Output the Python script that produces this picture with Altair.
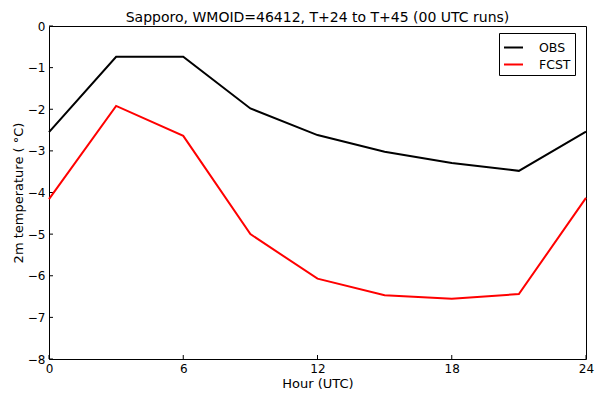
import altair as alt
import pandas as pd

hours = [0, 3, 6, 9, 12, 15, 18, 21, 24]
obs = [-2.55, -0.74, -0.74, -1.98, -2.62, -3.02, -3.29, -3.48, -2.54]
fcst = [-4.16, -1.92, -2.64, -5.0, -6.07, -6.47, -6.55, -6.44, -4.13]
series_names = ["OBS", "FCST"]
series_colors = ["black", "red"]
x_ticks = [0, 6, 12, 18, 24]
y_ticks = [-8, -7, -6, -5, -4, -3, -2, -1, 0]

rows = []
for name, vals in zip(series_names, [obs, fcst]):
    for h, v in zip(hours, vals):
        rows.append({"hour": h, "temp": v, "series": name})
df = pd.DataFrame(rows)

W, H = 537, 333
xscale = alt.Scale(domain=[0, 24], nice=False, zero=False)
yscale = alt.Scale(domain=[-8, 0], nice=False, zero=False)

xaxis = alt.Axis(values=x_ticks, title="Hour (UTC)", tickSize=0,
                 labelPadding=4, domain=False, grid=False, labelFlush=False,
                 labelFontSize=12, titleFontSize=13,
                 titleFontWeight="normal", titlePadding=3,
                 labelColor="black", titleColor="black",
                 labelFont="DejaVu Sans", titleFont="DejaVu Sans")
yaxis = alt.Axis(values=y_ticks, title="2m temperature ( °C)", tickSize=0,
                 labelPadding=4, domain=False, grid=False, labelFlush=False,
                 labelFontSize=12, titleFontSize=13,
                 titleFontWeight="normal", titlePadding=2,
                 labelColor="black", titleColor="black",
                 labelFont="DejaVu Sans", titleFont="DejaVu Sans")

lines = alt.Chart(df).mark_line(strokeWidth=2).encode(
    x=alt.X("hour:Q", scale=xscale, axis=xaxis),
    y=alt.Y("temp:Q", scale=yscale, axis=yaxis),
    color=alt.Color("series:N",
                    scale=alt.Scale(domain=series_names, range=series_colors),
                    legend=alt.Legend(title=None, orient="none", legendX=450, legendY=7,
                                      symbolType="stroke", symbolSize=361,
                                      symbolStrokeWidth=2, labelFontSize=12.5,
                                      labelFont="DejaVu Sans", labelColor="black",
                                      labelOffset=15, rowPadding=0,
                                      strokeColor="black", fillColor="white",
                                      padding=4, cornerRadius=0)),
)

xt = alt.Chart(pd.DataFrame({"xt": x_ticks})).mark_rule(color="black", strokeWidth=1).encode(
    x=alt.X("xt:Q", scale=xscale, axis=xaxis),
    y=alt.value(H), y2=alt.value(H - 4),
)
yt = alt.Chart(pd.DataFrame({"yt": y_ticks})).mark_rule(color="black", strokeWidth=1).encode(
    y=alt.Y("yt:Q", scale=yscale, axis=yaxis),
    x=alt.value(0), x2=alt.value(4),
)

chart = alt.layer(xt, yt, lines).properties(
    width=W, height=H,
    background="white",
    title=alt.TitleParams("Sapporo, WMOID=46412, T+24 to T+45 (00 UTC runs)",
                          fontSize=14, fontWeight="normal", font="DejaVu Sans",
                          color="black", anchor="middle", offset=-5),
    autosize=alt.AutoSizeParams(type="none"),
    padding={"left": 49, "top": 26, "right": 12, "bottom": 35},
).configure_view(stroke="black", strokeWidth=1)

chart.save("out.html", embed_options={"renderer": "svg", "actions": False})
